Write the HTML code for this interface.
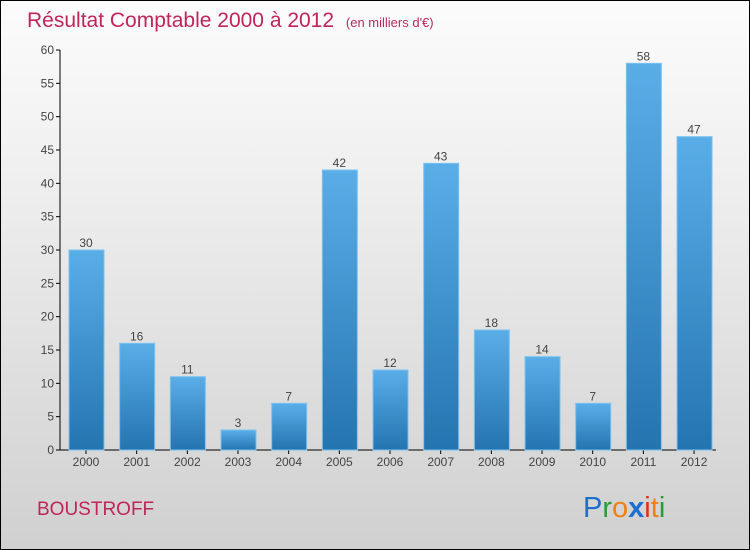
<!DOCTYPE html>
<html><head><meta charset="utf-8"><style>
body{margin:0}
#c{position:relative;width:748px;height:548px;border:1px solid #000;background:linear-gradient(#fcfcfc,#f0f0f0 30%,#d0d0d0);font-family:"Liberation Sans",sans-serif;overflow:hidden}
</style></head><body>
<div id="c">
<svg width="748" height="548">
<defs><linearGradient id="g" x1="0" y1="0" x2="0" y2="1"><stop offset="0" stop-color="#5aaee8"/><stop offset="1" stop-color="#2474b0"/></linearGradient></defs>
<text x="26" y="26" font-size="21" fill="#c0245a">Résultat Comptable 2000 à 2012 <tspan font-size="13" dx="6">(en milliers d'€)</tspan></text>
<g id="ax"></g><g id="bars"></g>
<text x="36" y="514" font-size="19" fill="#c0245a">BOUSTROFF</text>
<g font-size="29" font-family="Liberation Sans,sans-serif">
<text x="582" y="516" fill="#1a6fd0">P<tspan fill="#2a9a3a">r</tspan><tspan fill="#f08010">o</tspan><tspan fill="#1a6fd0" font-weight="bold">x</tspan><tspan fill="#e03010">i</tspan><tspan fill="#f08010">t</tspan><tspan fill="#2a9a3a">i</tspan></text></g>
</svg></div>
<script>
const years=["2000","2001","2002","2003","2004","2005","2006","2007","2008","2009","2010","2011","2012"];
const values=[30,16,11,3,7,42,12,43,18,14,7,58,47];
const yTicks=[0,5,10,15,20,25,30,35,40,45,50,55,60];
const NS="http://www.w3.org/2000/svg";
const y=v=>449-v*400/60, x=i=>85+i*50.67;
const ax=document.getElementById('ax'),bg=document.getElementById('bars');
function mk(t,a,p){const e=document.createElementNS(NS,t);for(const k in a)e.setAttribute(k,a[k]);p.appendChild(e);return e;}
const yl=mk('line',{x1:59,y1:y(60),x2:59,y2:y(0),stroke:'#000'},ax);


const xl=mk('line',{x1:59,y1:y(0),x2:715,y2:y(0),stroke:'#000'},ax);


yTicks.forEach(v=>{
 mk('line',{x1:55,y1:y(v),x2:59,y2:y(v),stroke:'#000'},ax);
 const t=mk('text',{x:53,y:y(v)+4,'text-anchor':'end','font-size':12,fill:'#444'},ax);t.textContent=v;
 
 
});
years.forEach((yr,i)=>{
 const v=values[i];
 const r=mk('rect',{x:x(i)-17,y:y(v),width:35,height:y(0)-y(v),fill:'url(#g)',stroke:'#7cc2f0','stroke-width':1},bg);
 
 
 const l=mk('text',{x:x(i),y:y(v)-3,'text-anchor':'middle','font-size':12,fill:'#444'},bg);l.textContent=v;
 
 
 mk('line',{x1:x(i),y1:y(0),x2:x(i),y2:y(0)+4,stroke:'#000'},ax);
 const t=mk('text',{x:x(i),y:y(0)+16,'text-anchor':'middle','font-size':12,fill:'#444'},ax);t.textContent=yr;
 
 
});
</script>
</body></html>
